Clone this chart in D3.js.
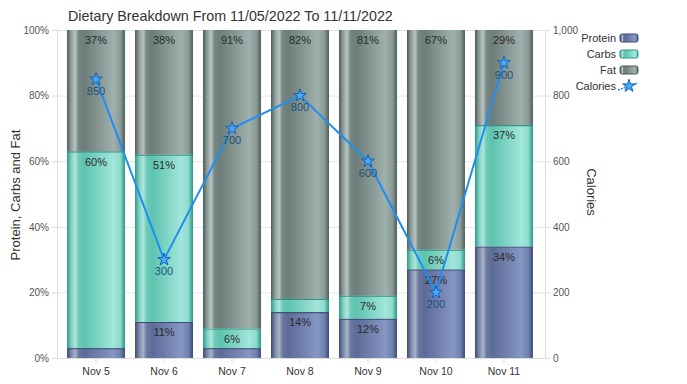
<!DOCTYPE html>
<html lang="en">
<head>
    <meta charset="UTF-8">
    <title>Dietary Breakdown</title>
    <script src="https://d3js.org/d3.v7.min.js"></script>
    <style>
        body {
            margin: 0;
            font-family: "Liberation Sans", Arial, sans-serif;
            background: #fff;
        }
        svg text {
            fill: #333;
        }
    </style>
</head>
<body>
    <svg id="chart" width="687" height="384"></svg>

    <script>
        // chart data
        const days = ["Nov 5", "Nov 6", "Nov 7", "Nov 8", "Nov 9", "Nov 10", "Nov 11"];
        const protein = [3, 11, 3, 14, 12, 27, 34];
        const carbs = [60, 51, 6, 4, 7, 6, 37];
        const fat = [37, 38, 91, 82, 81, 67, 29];
        const calories = [850, 300, 700, 800, 600, 200, 900];
        const pctTicks = [0, 20, 40, 60, 80, 100];
        const calTicks = [0, 200, 400, 600, 800, 1000];

        const seriesNames = ["Protein", "Carbs", "Fat"];

        // gradient stops per series: [offset, colour]
        const palettes = {
            Protein: { stroke: "#3b4a72", stops: [[0, "#3c4b74"], [0.07, "#7b88a8"], [0.14, "#aab3c8"], [0.2, "#6c7aa0"], [0.3, "#5c6b98"], [0.8, "#8797c4"], [0.92, "#7181b0"], [1, "#3c4b78"]] },
            Carbs: { stroke: "#2a9384", stops: [[0, "#2b9a89"], [0.07, "#7fcfc0"], [0.14, "#b1e6dc"], [0.2, "#6ccbb9"], [0.3, "#5ec3b0"], [0.8, "#a2e6da"], [0.92, "#8cdccd"], [1, "#2c9485"]] },
            Fat: { stroke: "#4a5a57", stops: [[0, "#4b5b58"], [0.07, "#8e9d9a"], [0.14, "#b7c3c0"], [0.2, "#758683"], [0.3, "#6d7e7a"], [0.8, "#a0b1ad"], [0.92, "#8a9b97"], [1, "#4e5e5b"]] }
        };

        const svg = d3.select("#chart");
        const plotTop = 30, plotBottom = 358, plotLeft = 57, plotRight = 545;

        const x = d3.scaleBand().domain(days).range([62, 538]).paddingInner(0.147).paddingOuter(0.074);
        const y = d3.scaleLinear().domain([0, 100]).range([plotBottom, plotTop]);
        const yCal = d3.scaleLinear().domain([0, 1000]).range([plotBottom, plotTop]);

        // gradients
        const defs = svg.append("defs");
        seriesNames.forEach(name => {
            const g = defs.append("linearGradient").attr("id", "grad-" + name)
                .attr("x1", "0%").attr("x2", "100%").attr("y1", "0%").attr("y2", "0%");
            palettes[name].stops.forEach(s => g.append("stop").attr("offset", s[0]).attr("stop-color", s[1]));
        });

        // grid lines
        svg.append("g")
            .selectAll("line")
            .data(pctTicks)
            .join("line")
            .attr("x1", plotLeft).attr("x2", plotRight)
            .attr("y1", d => y(d) + 0.5).attr("y2", d => y(d) + 0.5)
            .attr("stroke", "#e3e3e3");

        // left axis
        const yAxis = svg.append("g")
            .attr("transform", `translate(${plotLeft},0)`)
            .call(d3.axisLeft(y).tickValues(pctTicks).tickFormat(d => d + "%").tickSize(5).tickPadding(3));
        yAxis.selectAll("path, line").attr("stroke", "#ddd");
        yAxis.selectAll("text").attr("font-size", 10).style("fill", "#555");

        // right axis
        const yAxisR = svg.append("g")
            .attr("transform", `translate(${plotRight},0)`)
            .call(d3.axisRight(yCal).tickValues(calTicks).tickFormat(d3.format(",")).tickSize(5).tickPadding(3));
        yAxisR.selectAll("path, line").attr("stroke", "#ddd");
        yAxisR.selectAll("text").attr("font-size", 10).style("fill", "#555");

        // bottom axis
        const xAxis = svg.append("g")
            .attr("transform", `translate(0,${plotBottom})`)
            .call(d3.axisBottom(x).tickSize(5).tickPadding(5));
        xAxis.select("path").attr("d", `M${plotLeft},0.5H${plotRight}`).attr("stroke", "#ddd");
        xAxis.selectAll("line").attr("stroke", "#ddd");
        xAxis.selectAll("text").attr("font-size", 10.5).style("fill", "#333");

        // stacked bars
        const stackData = days.map((d, i) => ({ day: d, Protein: protein[i], Carbs: carbs[i], Fat: fat[i] }));
        const stacked = d3.stack().keys(seriesNames)(stackData);

        stacked.forEach(layer => {
            const name = layer.key;
            const g = svg.append("g");
            g.selectAll("rect")
                .data(layer)
                .join("rect")
                .attr("x", d => x(d.data.day))
                .attr("width", x.bandwidth())
                .attr("y", d => y(d[1]))
                .attr("height", d => y(d[0]) - y(d[1]))
                .attr("fill", `url(#grad-${name})`);
            // darker top edge
            g.selectAll("line")
                .data(layer.filter(d => d[1] < 100))
                .join("line")
                .attr("x1", d => x(d.data.day))
                .attr("x2", d => x(d.data.day) + x.bandwidth())
                .attr("y1", d => y(d[1]) + 0.5)
                .attr("y2", d => y(d[1]) + 0.5)
                .attr("stroke", palettes[name].stroke)
                .attr("stroke-width", 1.2);
            g.selectAll("text")
                .data(layer.filter(d => d.data[name] >= 5))
                .join("text")
                .attr("x", d => x(d.data.day) + x.bandwidth() / 2)
                .attr("y", d => y(d[1]) + 10.5)
                .attr("dy", "0.35em")
                .attr("text-anchor", "middle")
                .attr("font-size", 11)
                .style("fill", "#2a2a2a")
                .text(d => d.data[name] + "%");
        });

        // calories line
        const cx = d => x(d) + x.bandwidth() / 2;
        const line = d3.line().x((d, i) => cx(days[i])).y(d => yCal(d));
        svg.append("path")
            .datum(calories)
            .attr("d", line)
            .attr("fill", "none")
            .attr("stroke", "#1e8ff0")
            .attr("stroke-width", 2);

        const star = d3.symbol().type(d3.symbolStar).size(50);
        svg.append("g")
            .selectAll("path")
            .data(calories)
            .join("path")
            .attr("d", star)
            .attr("transform", (d, i) => `translate(${cx(days[i])},${yCal(d)})`)
            .attr("fill", "#4aa8f5")
            .attr("stroke", "#1560b8")
            .attr("stroke-width", 1);

        svg.append("g")
            .selectAll("text")
            .data(calories)
            .join("text")
            .attr("x", (d, i) => cx(days[i]))
            .attr("y", d => yCal(d) + 12)
            .attr("dy", "0.35em")
            .attr("text-anchor", "middle")
            .attr("font-size", 11)
            .style("fill", "#1d4f7c")
            .text(d => d);

        // title
        svg.append("text")
            .attr("x", 68).attr("y", 21)
            .attr("font-size", 14.3)
            .text("Dietary Breakdown From 11/05/2022 To 11/11/2022");

        // axis titles
        svg.append("text")
            .attr("transform", "translate(20,195) rotate(-90)")
            .attr("text-anchor", "middle")
            .attr("font-size", 13)
            .text("Protein, Carbs and Fat");
        svg.append("text")
            .attr("transform", "translate(587,192) rotate(90)")
            .attr("text-anchor", "middle")
            .attr("font-size", 13)
            .text("Calories");

        // legend
        const legendY = [38, 54, 70];
        const legend = svg.append("g");
        seriesNames.forEach((name, i) => {
            legend.append("text")
                .attr("x", 616).attr("y", legendY[i])
                .attr("dy", "0.35em")
                .attr("text-anchor", "end")
                .attr("font-size", 11)
                .text(name);
            legend.append("rect")
                .attr("x", 620).attr("y", legendY[i] - 4)
                .attr("width", 18).attr("height", 8)
                .attr("rx", 2)
                .attr("fill", `url(#grad-${name})`)
                .attr("stroke", palettes[name].stroke);
        });
        legend.append("text")
            .attr("x", 616).attr("y", 86)
            .attr("dy", "0.35em")
            .attr("text-anchor", "end")
            .attr("font-size", 11)
            .text("Calories");
        legend.append("line")
            .attr("x1", 618).attr("x2", 638)
            .attr("y1", 90).attr("y2", 83)
            .attr("stroke", "#1e8ff0").attr("stroke-width", 1.5)
            .attr("stroke-dasharray", "2,1");
        legend.append("path")
            .attr("d", star)
            .attr("transform", "translate(629,86)")
            .attr("fill", "#4aa8f5")
            .attr("stroke", "#1560b8");
    </script>
</body>
</html>
